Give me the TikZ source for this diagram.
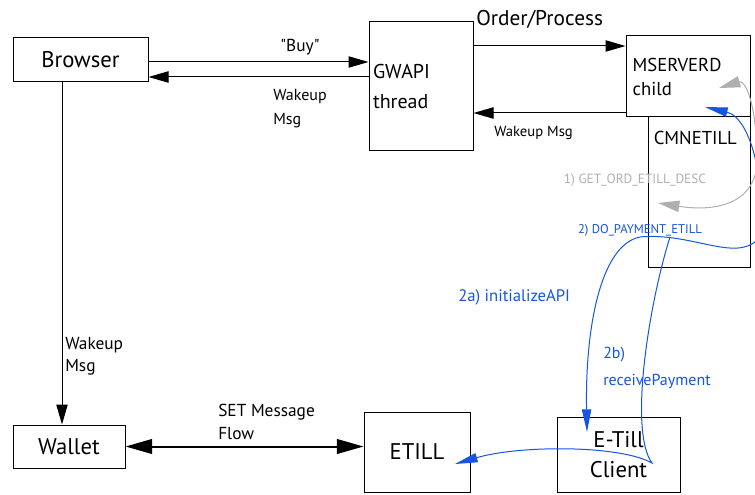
\documentclass[tikz,border=0pt]{standalone}
\usepackage{fontspec}
\setmainfont{PT Sans}[Ligatures=TeXOff]
\usetikzlibrary{arrows.meta, calc}

\definecolor{msgblue}{RGB}{20,85,225}
\definecolor{msggray}{RGB}{175,175,175}

\begin{document}
\begin{tikzpicture}[x=0.75pt, y=-0.75pt,
    % Define the styles for boxes and arrows
    box/.style={draw, line width=0.75pt, inner sep=0pt},
    arr/.style={line width=0.75pt, -{Triangle[length=15pt,width=8.5pt]}},
    botharr/.style={line width=1.5pt, {Triangle[length=20pt,width=11pt]}-{Triangle[length=20pt,width=11pt]}},
    bluearr/.style={msgblue, line width=0.75pt},
    bluetip/.style={-{Triangle[length=17pt,width=7pt]}},
    grayarr/.style={msggray, line width=0.75pt, {Triangle[length=16pt,width=8.5pt]}-{Triangle[length=16pt,width=8.5pt]}}
]
\useasboundingbox (0,0) rectangle (755,495);

% Define the boxes
\node[box, minimum width=101.25pt, minimum height=33pt, font=\fontsize{17}{20}\selectfont] (browser) at (80.5,60) {Browser};
\node[box, minimum width=78pt, minimum height=96.75pt, inner xsep=3pt, text width=72pt, align=left, font=\fontsize{15}{22.5}\selectfont] (gwapi) at (421,86.5) {GWAPI\\thread};
\node[box, minimum width=93pt, minimum height=60.75pt, inner xsep=5pt, text width=83pt, align=left, font=\fontsize{14}{18}\selectfont] (mserverd) at (688,76.5) {MSERVERD\\child};
\node[box, minimum width=76.5pt, minimum height=112.5pt] (cmnetill) at (699,192) {};
\node[box, minimum width=84pt, minimum height=32.25pt, font=\fontsize{17}{20}\selectfont] (wallet) at (69,446.5) {Wallet};
\node[box, minimum width=79.5pt, minimum height=60pt, font=\fontsize{17}{20}\selectfont] (etill) at (417,452) {ETILL};
\node[box, minimum width=92.25pt, minimum height=56.25pt, align=center, font=\fontsize{17}{22.5}\selectfont] (client) at (618.5,454.5) {E-Till\\Client};

% Add the box label of CMNETILL
\node[anchor=north west, inner sep=0pt, font=\fontsize{14}{18}\selectfont] (cmnlabel) at ([shift={(6,14)}]cmnetill.north west) {CMNETILL};

% Draw the black arrows
\draw[arr] (browser.east |- 0,62) -- (gwapi.west |- 0,62);
\draw[arr] (gwapi.west |- 0,77) -- (browser.east |- 0,77);
\draw[arr] (gwapi.east |- 0,46) -- (mserverd.west |- 0,46);
\draw[arr] (mserverd.west |- 0,113) -- (gwapi.east |- 0,113);
\draw[arr] (browser.south -| 62,0) -- (wallet.north -| 62,0);
\draw[botharr] (wallet.east) -- (etill.west |- wallet.east);

% Add the arrow labels
\node[font=\fontsize{13}{16}\selectfont] (buy) at (300,47) {"Buy"};
\node[anchor=west, align=left, inner sep=0pt, font=\fontsize{12}{18}\selectfont] (wake1) at (273,109) {Wakeup\\Msg};
\node[anchor=west, inner sep=0pt, font=\fontsize{16}{19}\selectfont] (order) at (476,19) {Order/Process};
\node[anchor=west, inner sep=0pt, font=\fontsize{11}{13}\selectfont] (wake2) at (494,133) {Wakeup Msg};
\node[anchor=west, align=left, inner sep=0pt, font=\fontsize{13}{16.5}\selectfont] (wake3) at (65,356) {Wakeup\\Msg};
\node[anchor=west, align=left, inner sep=0pt, font=\fontsize{13}{17}\selectfont] (setflow) at (218,422) {SET Message\\Flow};

% Define the points of the curved messages
\coordinate (g1) at (658,203);
\coordinate (g2) at (719,88);
\coordinate (p1) at (640,237);
\coordinate (p2) at (670,237);
\coordinate (m1) at (705,107);
\coordinate (c1) at (587,432);
\coordinate (e1) at (455,464);

% Draw the curved messages
\draw[grayarr] (g1) .. controls (715,212) and (762,205) .. (757,150) .. controls (755,100) and (745,80) .. (g2);
\draw[bluearr, {Triangle[length=17pt,width=7pt]}-{Triangle[length=17pt,width=7pt]}] (c1) .. controls (585,330) and (600,245) .. (p1) .. controls (690,232) and (735,262) .. (757,240) .. controls (768,190) and (752,118) .. (m1);
\draw[bluearr, bluetip] (p2) .. controls (650,300) and (628,430) .. (652,463) .. controls (620,445) and (520,445) .. (e1);

% Add the message labels
\node[msggray, inner sep=0pt, font=\fontsize{10}{12}\selectfont] (getord) at (635,180) {1) GET\_ORD\_ETILL\_DESC};
\node[msgblue, inner sep=0pt, font=\fontsize{9.5}{11}\selectfont] (dopay) at (640,230) {2) DO\_PAYMENT\_ETILL};
\node[msgblue, anchor=west, inner sep=0pt, font=\fontsize{12.5}{15}\selectfont] (initapi) at (458,297) {2a) initializeAPI};
\node[msgblue, anchor=west, align=left, inner sep=0pt, font=\fontsize{12}{20}\selectfont] (recvpay) at (603,368) {2b)\\receivePayment};

\end{tikzpicture}
\end{document}
